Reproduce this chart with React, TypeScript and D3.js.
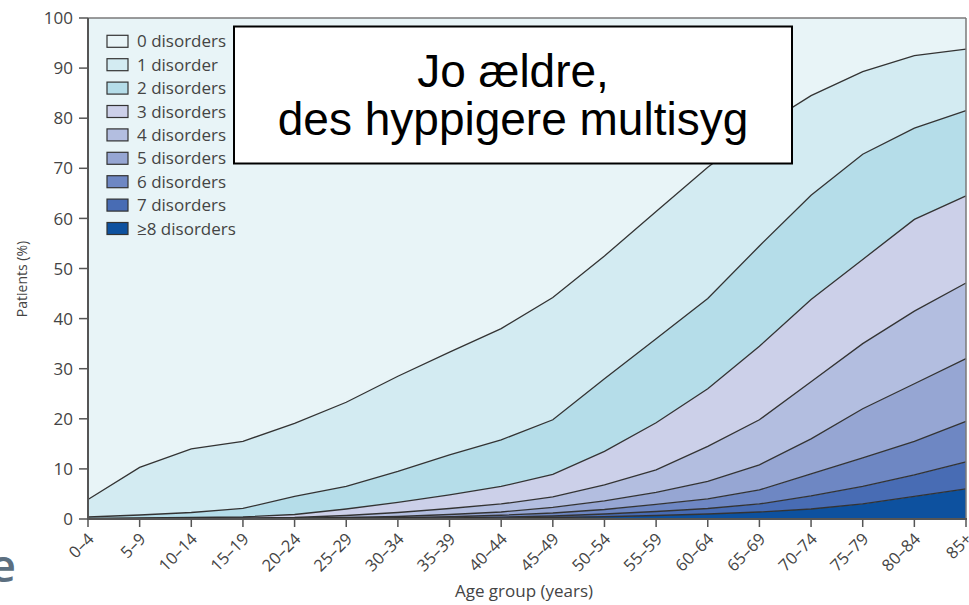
import React from "react";
import * as d3 from "d3";

const ageGroups = ["0–4","5–9","10–14","15–19","20–24","25–29","30–34","35–39","40–44","45–49","50–54","55–59","60–64","65–69","70–74","75–79","80–84","85+"];

// Percentage of patients with at least k disorders (cumulative), per age group
const atLeast1 = [3.9, 10.3, 14.0, 15.5, 19.1, 23.3, 28.5, 33.3, 38.0, 44.2, 52.5, 61.4, 70.2, 78.0, 84.5, 89.3, 92.5, 93.8];
const atLeast2 = [0.4, 0.8, 1.3, 2.1, 4.5, 6.5, 9.5, 12.8, 15.8, 19.8, 28.0, 36.0, 44.0, 54.5, 64.6, 72.8, 78.0, 81.5];
const atLeast3 = [0.1, 0.2, 0.3, 0.4, 0.9, 2.0, 3.3, 4.8, 6.5, 8.9, 13.5, 19.2, 26.0, 34.5, 43.8, 51.8, 59.8, 64.5];
const atLeast4 = [0.05, 0.1, 0.15, 0.2, 0.3, 0.7, 1.3, 2.1, 3.0, 4.4, 6.8, 9.8, 14.5, 19.8, 27.4, 35.0, 41.5, 47.1];
const atLeast5 = [0, 0.05, 0.1, 0.1, 0.15, 0.3, 0.5, 0.9, 1.4, 2.3, 3.6, 5.3, 7.5, 10.8, 16.0, 22.0, 27.0, 32.0];
const atLeast6 = [0, 0, 0.05, 0.05, 0.1, 0.15, 0.25, 0.45, 0.75, 1.2, 1.9, 2.9, 4.0, 5.8, 9.0, 12.2, 15.5, 19.5];
const atLeast7 = [0, 0, 0, 0, 0.05, 0.1, 0.12, 0.22, 0.38, 0.6, 1.0, 1.5, 2.1, 3.0, 4.6, 6.5, 8.8, 11.4];
const atLeast8 = [0, 0, 0, 0, 0, 0.05, 0.06, 0.1, 0.18, 0.3, 0.45, 0.7, 1.0, 1.4, 2.0, 3.0, 4.5, 6.0];

const legendLabels = ["0 disorders","1 disorder","2 disorders","3 disorders","4 disorders","5 disorders","6 disorders","7 disorders","≥8 disorders"];
const layerColors = ["#e8f4f7","#d3ebf2","#b5dde9","#ccd0e9","#b3bee0","#96a6d3","#6e87c3","#486cb4","#0d519f"];
const yTicks = [0,10,20,30,40,50,60,70,80,90,100];

const W = 969, H = 605;
const left = 88, right = 966, top = 18, bottom = 519;
const font = "'Open Sans', sans-serif";

export default function App() {
  const x = d3.scalePoint<string>().domain(ageGroups).range([left, right]);
  const y = d3.scaleLinear().domain([0, 100]).range([bottom, top]);

  const full = ageGroups.map(() => 100);
  const zero = ageGroups.map(() => 0);
  const bounds = [full, atLeast1, atLeast2, atLeast3, atLeast4, atLeast5, atLeast6, atLeast7, atLeast8, zero];

  const layers = legendLabels.map((_, k) => {
    const upper = bounds[k];
    const lower = bounds[k + 1];
    const a = d3.area<number>()
      .x((_, i) => x(ageGroups[i]) as number)
      .y0((_, i) => y(lower[i]))
      .y1((_, i) => y(upper[i]));
    return a(upper) as string;
  });

  const line = (arr: number[]) =>
    d3.line<number>()
      .x((_, i) => x(ageGroups[i]) as number)
      .y((v) => y(v))(arr) as string;

  const boundaryLines = [atLeast1, atLeast2, atLeast3, atLeast4, atLeast5, atLeast6, atLeast7, atLeast8];

  return (
    <svg width={W} height={H} style={{ position: "absolute", left: 0, top: 0, background: "#fff" }}>
      {layers.map((d, k) => (
        <path key={k} d={d} fill={layerColors[k]} stroke="none" />
      ))}
      {boundaryLines.map((arr, k) => (
        <path key={k} d={line(arr)} fill="none" stroke="#333" strokeWidth={1.3} />
      ))}
      <line x1={left} x2={right} y1={top} y2={top} stroke="#7a7a7a" strokeWidth={1.5} />
      <line x1={right} x2={right} y1={top} y2={bottom} stroke="#7a7a7a" strokeWidth={1.5} />
      <line x1={left} x2={left} y1={top} y2={bottom + 1} stroke="#555" strokeWidth={2} />
      {yTicks.map((t) => (
        <g key={t}>
          <line x1={left - 9} x2={left} y1={y(t)} y2={y(t)} stroke="#555" strokeWidth={1.5} />
          <text x={left - 15} y={y(t)} dy="0.36em" textAnchor="end" fontFamily={font} fontSize={17} fill="#444">{t}</text>
        </g>
      ))}
      <line x1={left - 1} x2={right + 1} y1={bottom} y2={bottom} stroke="#555" strokeWidth={2} />
      {ageGroups.map((g) => {
        const px = x(g) as number;
        return (
          <g key={g}>
            <line x1={px} x2={px} y1={bottom} y2={bottom + 8} stroke="#555" strokeWidth={1.5} />
            <text transform={`translate(${px + 7},${bottom + 21}) rotate(-45)`} textAnchor="end" fontFamily={font} fontSize={16.5} fill="#444">{g}</text>
          </g>
        );
      })}
      <text x={524} y={597} textAnchor="middle" fontFamily={font} fontSize={17} fill="#444">Age group (years)</text>
      <text transform={`translate(27,279) rotate(-90)`} textAnchor="middle" fontFamily={font} fontSize={14} fill="#444">Patients (%)</text>
      {legendLabels.map((lab, k) => {
        const cy = 41.3 + k * 23.4;
        return (
          <g key={lab}>
            <rect x={107} y={cy - 6} width={21} height={12} fill={layerColors[k]} stroke="#333" strokeWidth={1.2} />
            <text x={137} y={cy} dy="0.36em" fontFamily={font} fontSize={17} fill="#444">{lab}</text>
          </g>
        );
      })}
      <rect x={234} y={26.5} width={558} height={137} fill="#fff" stroke="#000" strokeWidth={2} />
      <text x={513} y={87} textAnchor="middle" fontFamily="'Liberation Sans', Arial, sans-serif" fontSize={46} fill="#000">Jo ældre,</text>
      <text x={513} y={135} textAnchor="middle" fontFamily="'Liberation Sans', Arial, sans-serif" fontSize={46} fill="#000">des hyppigere multisyg</text>
      <text x={16} y={582} textAnchor="end" fontFamily={font} fontWeight={600} fontSize={46} fill="#5c6f80">e</text>
    </svg>
  );
}
